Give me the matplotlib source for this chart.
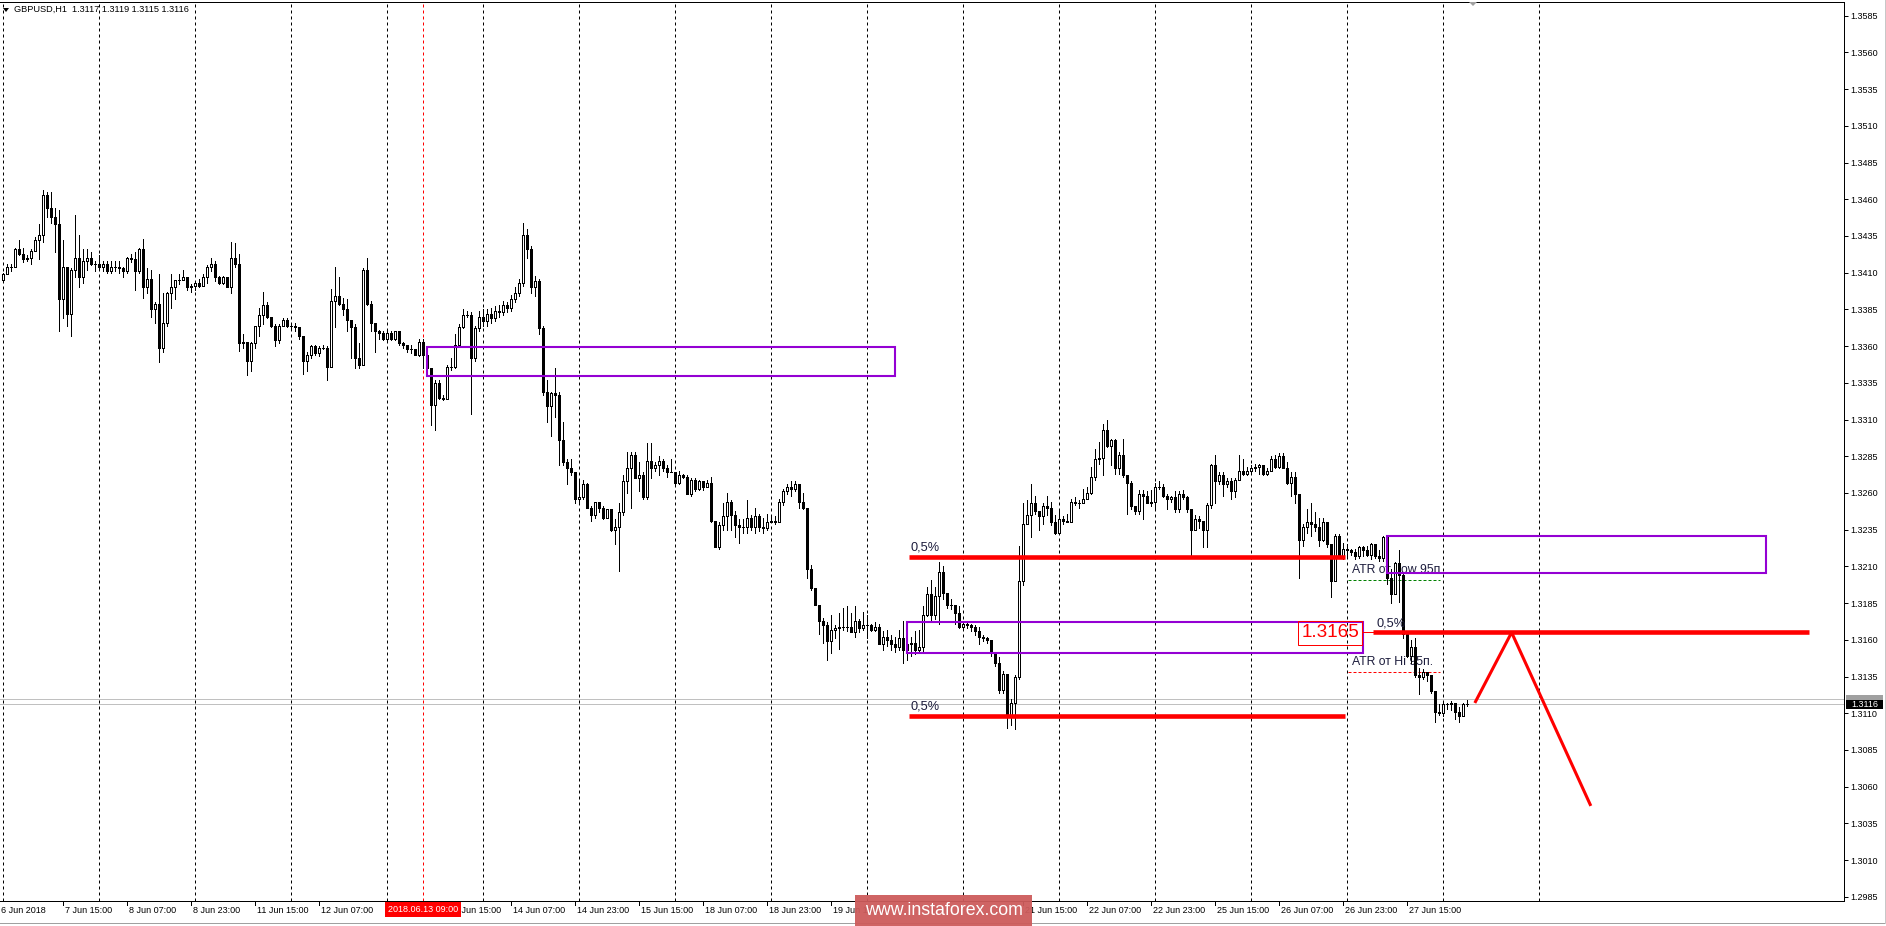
import numpy as np
import matplotlib.pyplot as plt
from matplotlib.patches import Rectangle, Polygon
from matplotlib.lines import Line2D
from matplotlib.transforms import blended_transform_factory

plt.rcParams['font.family'] = ['Liberation Sans', 'DejaVu Sans']

# GBPUSD H1, prices in pips above 1.3000, one row per trading day (24 bars)
BASE = 1.3
first_open = 405
closes = [
    409, 414, 414, 426, 423, 419, 420, 425, 432, 436, 463, 454, 448, 443, 392, 414, 382, 412, 420, 407, 418, 420, 416, 416,  # 7 Jun
    414, 416, 411, 414, 414, 413, 411, 420, 419, 411, 426, 400, 406, 385, 389, 359, 376, 396, 400, 405, 405, 407, 400, 401,  # 8 Jun
    403, 401, 407, 414, 416, 407, 403, 407, 400, 420, 416, 362, 363, 350, 362, 374, 381, 388, 380, 374, 364, 374, 378, 374,  # 11 Jun
    374, 373, 367, 350, 354, 360, 355, 359, 359, 346, 391, 394, 389, 385, 378, 373, 352, 347, 412, 389, 376, 370, 369, 365,  # 12 Jun
    369, 365, 370, 362, 361, 358, 358, 354, 363, 354, 345, 320, 335, 325, 324, 346, 346, 361, 373, 381, 381, 352, 372, 380,  # 13 Jun
    377, 382, 379, 384, 383, 388, 386, 392, 396, 403, 436, 426, 400, 404, 372, 329, 319, 328, 327, 296, 281, 277, 274, 256,  # 14 Jun
    257, 266, 250, 245, 254, 250, 243, 249, 235, 237, 247, 268, 277, 286, 270, 272, 257, 282, 277, 279, 282, 277, 274, 274,  # 15 Jun
    267, 272, 271, 259, 269, 263, 268, 264, 267, 241, 223, 238, 244, 254, 245, 238, 237, 237, 243, 237, 244, 237, 236, 240,  # 18 Jun
    241, 240, 254, 261, 264, 263, 266, 254, 250, 208, 195, 184, 173, 170, 159, 167, 168, 169, 169, 169, 165, 173, 168, 170,  # 19 Jun
    170, 167, 169, 157, 162, 160, 157, 155, 161, 153, 157, 158, 153, 155, 177, 191, 177, 190, 206, 192, 184, 184, 178, 169,  # 20 Jun
    171, 170, 169, 166, 162, 161, 160, 151, 144, 126, 137, 108, 117, 135, 200, 239, 245, 253, 248, 244, 251, 250, 240, 233,  # 21 Jun
    242, 241, 240, 254, 253, 253, 256, 260, 271, 283, 284, 303, 292, 296, 277, 286, 272, 267, 251, 248, 259, 258, 253, 254,  # 22 Jun
    264, 264, 258, 256, 257, 249, 259, 257, 249, 235, 242, 241, 235, 252, 279, 268, 272, 266, 268, 261, 269, 275, 273, 275,  # 25 Jun
    277, 278, 279, 273, 275, 283, 278, 285, 277, 267, 271, 259, 228, 237, 240, 239, 237, 228, 240, 225, 200, 231, 217, 222,  # 26 Jun
    221, 220, 217, 223, 221, 218, 225, 217, 216, 230, 202, 191, 212, 204, 164, 149, 155, 136, 135, 138, 136, 125, 111, 110,  # 27 Jun
    116, 116, 117, 111, 108, 116, 116,  # 28 Jun
]
highs = [
    410, 416, 416, 427, 432, 427, 422, 426, 434, 443, 466, 465, 465, 454, 453, 432, 414, 413, 449, 436, 426, 426, 424, 418,
    422, 418, 418, 418, 418, 418, 414, 421, 423, 424, 427, 433, 413, 412, 390, 409, 396, 397, 409, 405, 409, 412, 406, 402,
    404, 406, 409, 415, 420, 418, 408, 408, 407, 431, 430, 423, 368, 363, 363, 374, 386, 397, 390, 379, 375, 375, 379, 379,
    376, 376, 373, 366, 356, 361, 361, 360, 361, 360, 399, 414, 407, 393, 392, 378, 375, 362, 413, 420, 391, 376, 371, 370,
    370, 370, 370, 370, 363, 361, 361, 358, 365, 365, 354, 345, 337, 337, 327, 347, 352, 368, 375, 385, 384, 383, 374, 384,
    385, 385, 386, 387, 388, 391, 390, 395, 400, 406, 444, 440, 428, 408, 406, 374, 337, 329, 345, 329, 308, 283, 283, 274,
    268, 269, 267, 251, 254, 254, 251, 249, 249, 242, 253, 272, 288, 288, 288, 281, 274, 294, 294, 281, 285, 283, 279, 283,
    274, 275, 273, 272, 270, 270, 269, 268, 269, 271, 241, 240, 253, 260, 255, 248, 242, 242, 255, 245, 250, 246, 243, 246,
    245, 244, 256, 263, 266, 268, 268, 266, 260, 250, 211, 195, 184, 175, 172, 177, 170, 178, 182, 183, 178, 183, 174, 179,
    177, 171, 172, 171, 166, 167, 163, 162, 167, 173, 162, 162, 166, 167, 183, 196, 201, 196, 213, 210, 192, 188, 184, 183,
    173, 172, 171, 170, 169, 163, 162, 160, 152, 148, 139, 137, 120, 136, 224, 253, 255, 266, 258, 247, 253, 258, 254, 245,
    248, 244, 246, 256, 257, 255, 263, 264, 278, 290, 295, 307, 310, 297, 297, 288, 297, 272, 268, 251, 262, 262, 261, 262,
    267, 268, 266, 259, 258, 261, 261, 262, 258, 249, 245, 244, 241, 253, 280, 286, 274, 274, 270, 270, 270, 286, 283, 278,
    279, 280, 280, 277, 277, 285, 286, 287, 287, 281, 274, 274, 258, 239, 249, 253, 247, 243, 243, 240, 224, 232, 232, 226,
    225, 222, 222, 224, 224, 224, 226, 225, 221, 231, 231, 208, 213, 221, 205, 164, 160, 161, 141, 140, 138, 134, 125, 116,
    117, 117, 118, 117, 114, 117, 119,
]
lows = [
    404, 409, 411, 415, 422, 417, 418, 416, 426, 419, 431, 448, 444, 424, 370, 379, 374, 367, 407, 400, 403, 412, 415, 411,
    412, 411, 410, 410, 411, 410, 407, 410, 417, 398, 410, 393, 396, 380, 376, 349, 356, 374, 386, 392, 402, 405, 398, 397,
    398, 400, 401, 403, 411, 404, 402, 402, 400, 396, 414, 357, 359, 340, 343, 359, 367, 375, 379, 373, 360, 362, 374, 373,
    371, 370, 365, 341, 343, 352, 354, 353, 358, 337, 346, 373, 388, 381, 370, 352, 345, 345, 347, 388, 370, 356, 365, 364,
    364, 364, 364, 361, 359, 356, 355, 354, 353, 345, 340, 306, 303, 324, 323, 324, 344, 345, 361, 372, 380, 314, 350, 370,
    374, 374, 376, 377, 380, 381, 383, 384, 390, 394, 401, 420, 396, 394, 368, 327, 308, 299, 312, 279, 279, 266, 272, 253,
    253, 256, 250, 241, 243, 247, 242, 243, 234, 225, 207, 245, 260, 250, 270, 261, 256, 256, 270, 275, 272, 275, 271, 274,
    266, 266, 270, 259, 258, 261, 262, 262, 264, 240, 223, 222, 235, 235, 235, 230, 226, 233, 233, 235, 233, 234, 233, 235,
    240, 239, 240, 252, 259, 258, 261, 250, 249, 202, 194, 184, 164, 158, 146, 151, 161, 154, 167, 166, 165, 162, 165, 167,
    161, 166, 166, 157, 153, 156, 153, 152, 153, 144, 146, 149, 150, 151, 152, 176, 172, 174, 171, 188, 182, 181, 171, 168,
    168, 168, 166, 163, 157, 159, 158, 149, 142, 124, 124, 100, 102, 99, 133, 197, 240, 230, 246, 235, 239, 245, 238, 232,
    233, 239, 240, 240, 252, 250, 253, 256, 259, 269, 280, 272, 291, 279, 273, 273, 271, 246, 249, 246, 246, 242, 253, 251,
    249, 263, 257, 249, 254, 247, 247, 256, 247, 217, 236, 236, 223, 223, 250, 253, 266, 258, 264, 256, 257, 269, 272, 272,
    273, 275, 273, 272, 272, 275, 277, 277, 277, 266, 258, 253, 202, 224, 233, 231, 234, 224, 227, 223, 189, 200, 216, 215,
    217, 218, 215, 216, 217, 217, 215, 216, 214, 214, 198, 185, 191, 186, 161, 148, 144, 135, 123, 133, 132, 124, 104, 109,
    108, 113, 112, 106, 104, 108, 115,
]

# time axis (bar index 0 = 7 Jun 00:00); labels hidden under the red
# time marker and the watermark are left out
day_starts = list(range(0, 385, 24))
time_label_bars = [-1, 15, 31, 47, 63, 79, 111, 127, 143, 159, 175, 191, 207,
                   255, 271, 287, 303, 319, 335, 351]
time_labels = ['6 Jun 2018', '7 Jun 15:00', '8 Jun 07:00', '8 Jun 23:00', '11 Jun 15:00',
               '12 Jun 07:00', '13 Jun 15:00', '14 Jun 07:00', '14 Jun 23:00',
               '15 Jun 15:00', '18 Jun 07:00', '18 Jun 23:00', '19 Jun 15:00',
               '21 Jun 15:00', '22 Jun 07:00', '22 Jun 23:00', '25 Jun 15:00',
               '26 Jun 07:00', '26 Jun 23:00', '27 Jun 15:00']
marked_bar = 105
marked_label = '2018.06.13 09:00'
price_ticks = [1.2985 + 0.0025 * k for k in range(25)]
bid, ask = 1.3116, 1.31195
header = 'GBPUSD,H1  1.3117 1.3119 1.3115 1.3116'

# drawn objects: (bar from, bar to, price low, price high)
zones = [(105.85, 222.9, 1.33399, 1.33597),
         (225.85, 339.85, 1.31507, 1.31721),
         (345.85, 440.6, 1.32053, 1.32309)]
levels = [(226.5, 335.4, 1.32162), (226.5, 335.4, 1.31081), (342.5, 451.5, 1.3165)]
level_notes = [(226.9, 1.32227), (226.9, 1.31145), (343.2, 1.31708)]
forecast_bars = [367.9, 377.1, 396.9]
forecast_prices = [1.3117, 1.3165, 1.30469]
atr_lines = [(336.1, 359.2, 1.32005, 'green', 1.32073, 'ATR от Low 95п.'),
             (336.1, 359.2, 1.31379, 'red', 1.31446, 'ATR от Hi 95п.')]

W, H = 1886, 926
fig = plt.figure(figsize=(W / 100, H / 100), dpi=100)
fig.patch.set_facecolor('white')
ax = fig.add_axes([0, 25 / H, 1844 / W, 899.5 / H])
ax.set_xlim(-0.825, 460.2)
ax.set_ylim(1.298214, 1.359467)
ax.set_facecolor('white')
for s in ['top', 'right', 'bottom']:
    ax.spines[s].set_linewidth(0.72)
ax.spines['left'].set_visible(False)

# candles
c = BASE + np.array(closes) / 1e4
h = BASE + np.array(highs) / 1e4
l = BASE + np.array(lows) / 1e4
o = np.concatenate([[BASE + first_open / 1e4], c[:-1]])
x = np.arange(len(c))
top = np.maximum(o, c)
bot = np.minimum(o, c)
ax.vlines(x, np.minimum(l, bot), np.maximum(h, top), colors='black', lw=0.7,
          zorder=3, antialiased=False)
ax.bar(x, top - bot, bottom=bot, width=0.5,
       color=['white' if up else 'black' for up in (c >= o)],
       edgecolor='black', linewidth=0.7, zorder=4, antialiased=False)

# period separators and marked time
for d in day_starts:
    ax.axvline(d, color='black', lw=0.72, ls=(0, (3, 3)), zorder=1)
ax.axvline(marked_bar, color='red', lw=0.72, ls=(0, (3, 3)), zorder=1)
ax.axhline(bid, color='#C0C0C0', lw=0.72, zorder=1)
ax.axhline(ask, color='#C0C0C0', lw=0.72, zorder=1)

# user objects
for x0, x1, p0, p1 in zones:
    ax.add_patch(Rectangle((x0, p0), x1 - x0, p1 - p0, fill=False,
                           edgecolor='#9400D3', lw=1.5, zorder=6))
for x0, x1, p in levels:
    ax.hlines(p, x0, x1, colors='red', lw=3.3, zorder=7)
for xb, p in level_notes:
    ax.text(xb, p, '0,5%', fontsize=9.2, color='#1c1c3c', va='center', ha='left', zorder=7)
for x0, x1, p, col, tp, txt in atr_lines:
    ax.hlines(p, x0, x1, colors=col, lw=0.72, linestyles=(0, (3, 2)), zorder=2)
    ax.text(x0 + 1, tp, txt, fontsize=8.8, color='#1c1c3c', va='center', ha='left', zorder=2)
ax.plot(forecast_bars, forecast_prices, color='red', lw=2.2, zorder=7, solid_capstyle='butt')

# price label of the right level
ax.add_patch(Rectangle((323.75, 1.31565), 339.6 - 323.75, 1.3173 - 1.31565, fill=False,
                       edgecolor='red', lw=0.72, zorder=7))
ax.plot([339.6, 342.5], [levels[2][2], levels[2][2]], color='red', lw=0.72, zorder=7)
ax.text(331.7, 1.31648, '1.3165', fontsize=13.6, color='red', ha='center', va='center', zorder=8)

# right price axis
ax.yaxis.tick_right()
ax.set_yticks(price_ticks)
ax.set_yticklabels([f'{p:.4f}' for p in price_ticks])
ax.tick_params(axis='y', direction='out', length=2.9, width=0.72, pad=1.4,
               labelsize=6.5, colors='black')
ax.set_xticks([])

fy = lambda py: 1 - py / H
bt = blended_transform_factory(fig.transFigure, ax.transData)
ax.add_patch(Rectangle((1846 / W, ask - 0.0003), 37 / W, 0.0006, transform=bt,
                       facecolor='#A0A0A0', edgecolor='none', clip_on=False, zorder=9))
ax.add_patch(Rectangle((1846 / W, bid - 0.0003), 37 / W, 0.0006, transform=bt,
                       facecolor='black', edgecolor='none', clip_on=False, zorder=10))
ax.text(1864.5 / W, bid, f'{bid:.4f}', transform=bt, fontsize=6.5, color='white',
        ha='center', va='center', clip_on=False, zorder=10)

# time axis labels
tt = blended_transform_factory(ax.transData, fig.transFigure)
for b, s in zip(time_label_bars, time_labels):
    ax.plot([b, b], [fy(901), fy(905)], transform=tt, color='black', lw=0.72, clip_on=False)
    ax.text(b + 0.5, fy(910.5), s, transform=tt, fontsize=6.5, ha='left', va='center',
            clip_on=False)
ax.add_patch(Rectangle((marked_bar - 9.5, fy(917)), 19, 15 / H, transform=tt,
                       facecolor='red', edgecolor='none', clip_on=False, zorder=10))
ax.text(marked_bar, fy(910), marked_label, transform=tt, fontsize=6.5, color='white',
        ha='center', va='center', clip_on=False, zorder=11)

# header and window details
fig.add_artist(Polygon([(3 / W, fy(8)), (9 / W, fy(8)), (6 / W, fy(12))], closed=True,
                       transform=fig.transFigure, facecolor='black', edgecolor='none'))
fig.text(14 / W, fy(9.7), header, fontsize=6.6, ha='left', va='center')
fig.add_artist(Polygon([(1469 / W, fy(2)), (1477 / W, fy(2)), (1473 / W, fy(6))], closed=True,
                       transform=fig.transFigure, facecolor='#A0A0A0', edgecolor='none'))
fig.add_artist(Line2D([0, 1], [fy(923), fy(923)], transform=fig.transFigure,
                      color='#A0A0A0', lw=0.72))
fig.add_artist(Line2D([1885 / W, 1885 / W], [fy(923), 1], transform=fig.transFigure,
                      color='#C8C8C8', lw=0.72))

# watermark
fig.add_artist(Rectangle((855 / W, fy(926)), 177 / W, 31 / H, transform=fig.transFigure,
                         facecolor='#CD5C5C', edgecolor='none', alpha=0.95, zorder=5))
fig.text(943.5 / W, fy(910.5), 'www.instaforex.com', fontsize=12.8, color='white',
         ha='center', va='center', zorder=6)

fig.savefig('out.png', dpi=100)
